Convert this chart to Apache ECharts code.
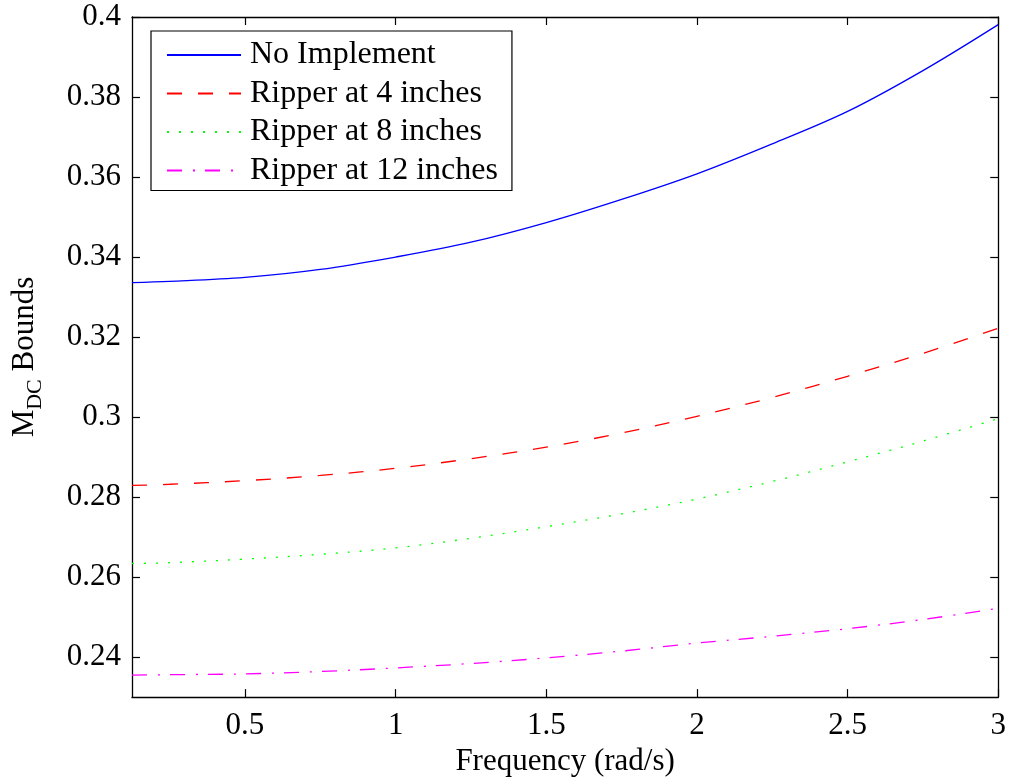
<!DOCTYPE html>
<html>
<head>
<meta charset="utf-8">
<script src="https://cdn.jsdelivr.net/npm/echarts@6/dist/echarts.min.js"></script>
<style>
html,body{margin:0;padding:0;background:#fff;}
#chart{width:1009px;height:782px;}
</style>
</head>
<body>
<div id="chart"></div>
<script>
// Frequency (rad/s)
const freq = [0.125, 0.25, 0.5, 0.75, 1.0, 1.25, 1.5, 1.75, 2.0, 2.25, 2.5, 2.75, 3.0];
const noImplement = [0.3336, 0.3339, 0.3349, 0.3369, 0.3400, 0.3437, 0.3486, 0.3544, 0.3608, 0.3683, 0.3764, 0.3866, 0.3981];
const ripper4 = [0.2829, 0.2832, 0.2841, 0.2854, 0.2872, 0.2896, 0.2925, 0.2960, 0.3002, 0.3049, 0.3102, 0.3159, 0.3222];
const ripper8 = [0.2634, 0.2636, 0.2645, 0.2657, 0.2673, 0.2697, 0.2726, 0.2758, 0.2795, 0.2839, 0.2888, 0.2940, 0.2996];
const ripper12 = [0.2355, 0.2356, 0.2358, 0.2364, 0.2373, 0.2384, 0.2398, 0.2415, 0.2435, 0.2452, 0.2471, 0.2494, 0.2522];
const seriesNames = ['No Implement', 'Ripper at 4 inches', 'Ripper at 8 inches', 'Ripper at 12 inches'];
const xTicks = [0.5, 1, 1.5, 2, 2.5, 3];
const yTicks = [0.24, 0.26, 0.28, 0.3, 0.32, 0.34, 0.36, 0.38, 0.4];

const FONT = 'Liberation Serif';
const FS = 31;
const pair = arr => freq.map((f, i) => [f, arr[i]]);

const chart = echarts.init(document.getElementById('chart'));
const axisLine = {show: true, lineStyle: {color: '#000', width: 1.3}};
const tick = vals => ({show: true, inside: true, length: 8, customValues: vals, lineStyle: {color: '#000', width: 1.2}});

function mkSeries(name, data, color, dash) {
  return {
    name, type: 'line', data: pair(data), smooth: 0.35, symbol: 'none', showSymbol: false,
    lineStyle: {color, width: 1.3, type: dash}, itemStyle: {color},
    emphasis: {disabled: true}, animation: false
  };
}

chart.setOption({
  animation: false,
  backgroundColor: '#fff',
  grid: {left: 132, right: 9, top: 17, bottom: 81, containLabel: false},
  legend: {
    orient: 'vertical', left: 151, top: 31,
    data: seriesNames,
    itemWidth: 74, itemHeight: 20, itemGap: 6.5,
    padding: [8, 14, 4, 15],
    borderColor: '#000', borderWidth: 1.2, backgroundColor: '#fff',
    itemStyle: {opacity: 0, color: 'rgba(0,0,0,0)', borderWidth: 0},
    textStyle: {fontFamily: FONT, fontSize: 32, color: '#000', lineHeight: 31, padding: [0, 0, 0, 4]},
    selectedMode: false
  },
  xAxis: [{
    type: 'value', min: 0.125, max: 3, position: 'bottom',
    name: 'Frequency (rad/s)', nameLocation: 'middle', nameGap: 46,
    nameTextStyle: {fontFamily: FONT, fontSize: FS, color: '#000'},
    axisLine, axisTick: tick(xTicks), splitLine: {show: false},
    axisLabel: {customValues: xTicks, margin: 13, fontFamily: FONT, fontSize: FS, color: '#000'}
  }, {
    type: 'value', min: 0.125, max: 3, position: 'top',
    axisLine, axisTick: tick(xTicks), splitLine: {show: false},
    axisLabel: {show: false}
  }],
  yAxis: [{
    type: 'value', min: 0.23, max: 0.4, position: 'left',
    name: '{a|M}{b|DC}{a| Bounds}', nameLocation: 'middle', nameGap: 86, nameRotate: 90,
    nameTextStyle: {
      fontFamily: FONT, fontSize: FS, color: '#000',
      rich: {
        a: {fontFamily: FONT, fontSize: FS, color: '#000'},
        b: {fontFamily: FONT, fontSize: 22, color: '#000', padding: [20, 0, 0, 0]}
      }
    },
    axisLine, axisTick: tick(yTicks), splitLine: {show: false},
    axisLabel: {customValues: yTicks, margin: 11, fontFamily: FONT, fontSize: FS, color: '#000'}
  }, {
    type: 'value', min: 0.23, max: 0.4, position: 'right',
    axisLine, axisTick: tick(yTicks), splitLine: {show: false},
    axisLabel: {show: false}
  }],
  series: [
    mkSeries(seriesNames[0], noImplement, '#0000ff', 'solid'),
    mkSeries(seriesNames[1], ripper4, '#ff0000', [15, 16]),
    mkSeries(seriesNames[2], ripper8, '#00ff00', [2, 10]),
    mkSeries(seriesNames[3], ripper12, '#ff00ff', [15, 11, 2, 10])
  ]
});
</script>
</body>
</html>
